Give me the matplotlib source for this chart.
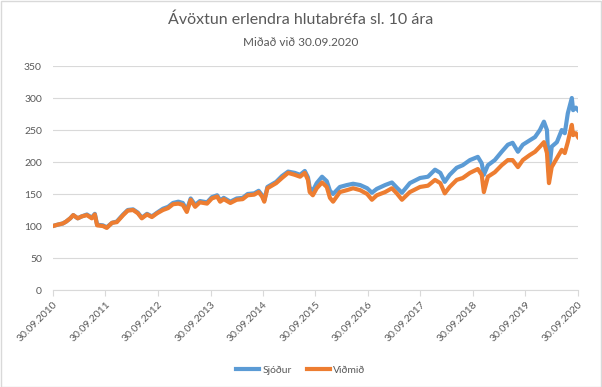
import matplotlib
matplotlib.use("Agg")
import matplotlib.pyplot as plt
from matplotlib.patches import Rectangle
import pandas as pd

# values (index, 30.09.2010 = 100)
dates = [
    "2010-09-30", "2010-10-31", "2010-12-08", "2010-12-31", "2011-01-28", "2011-02-18",
    "2011-03-21", "2011-04-18", "2011-05-24", "2011-06-27", "2011-07-18", "2011-08-03",
    "2011-09-12", "2011-10-09", "2011-11-15", "2011-12-18", "2012-01-31", "2012-03-03",
    "2012-04-09", "2012-05-12", "2012-06-09", "2012-07-15", "2012-08-18", "2012-09-24",
    "2012-11-03", "2012-12-09", "2013-01-12", "2013-02-18", "2013-03-21", "2013-04-18",
    "2013-05-15", "2013-06-15", "2013-07-18", "2013-09-06", "2013-10-09", "2013-11-15",
    "2013-12-06", "2013-12-31", "2014-02-15", "2014-03-31", "2014-05-12", "2014-06-15",
    "2014-07-31", "2014-08-31", "2014-09-24", "2014-10-09", "2014-10-31", "2014-12-31",
    "2015-02-09", "2015-03-24", "2015-05-09", "2015-06-15", "2015-07-18", "2015-08-09",
    "2015-08-21", "2015-09-12", "2015-10-09", "2015-11-15", "2015-12-18", "2016-01-09",
    "2016-01-31", "2016-03-18", "2016-05-06", "2016-06-18", "2016-08-06", "2016-09-24",
    "2016-10-27", "2016-11-30", "2017-01-27", "2017-03-15", "2017-04-18", "2017-05-24",
    "2017-07-18", "2017-09-27", "2017-11-21", "2018-01-09", "2018-02-15", "2018-03-18",
    "2018-04-21", "2018-06-09", "2018-07-21", "2018-09-09", "2018-11-03", "2018-11-30",
    "2018-12-15", "2019-01-12", "2019-03-01", "2019-04-18", "2019-05-31", "2019-07-03",
    "2019-08-09", "2019-09-12", "2019-10-31", "2019-12-06", "2020-01-09", "2020-02-06",
    "2020-02-27", "2020-03-12", "2020-03-31", "2020-05-06", "2020-06-09", "2020-06-30",
    "2020-07-21", "2020-08-18", "2020-08-27", "2020-09-15", "2020-09-30",
]
sjodur = [
    100, 102, 104, 107, 112, 117, 112, 115, 118, 113, 119, 102,
    101, 98, 105, 107, 118, 125, 126, 121, 113, 119, 115, 121,
    127, 130, 136, 138, 136, 125, 143, 133, 139, 137, 145, 148,
    140, 144, 138, 143, 144, 150, 151, 155, 148, 140, 161, 169,
    178, 185, 183, 180, 186, 176, 160, 155, 167, 177, 170, 155,
    150, 161, 164, 166, 164, 159, 152, 158, 164, 168, 160, 152,
    167, 175, 177, 188, 183, 169, 180, 191, 195, 203, 208, 198,
    180, 195, 203, 216, 227, 230, 216, 227, 234, 239, 250, 263,
    250, 184, 224, 231, 250, 245, 276, 300, 281, 285, 281,
]
vidmid = [
    100, 102, 104, 107, 112, 117, 112, 115, 117, 112, 118, 101,
    100, 97, 105, 106, 117, 124, 125, 120, 112, 118, 114, 120,
    125, 128, 134, 135, 133, 122, 141, 130, 137, 135, 143, 146,
    138, 142, 136, 141, 142, 148, 149, 153, 146, 138, 159, 167,
    175, 183, 180, 177, 183, 172, 153, 148, 159, 168, 161, 144,
    138, 153, 156, 159, 156, 150, 141, 148, 153, 159, 151, 141,
    153, 161, 163, 172, 167, 151, 161, 172, 175, 183, 189, 180,
    153, 177, 184, 195, 203, 203, 192, 203, 211, 216, 224, 231,
    214, 167, 192, 206, 219, 214, 231, 258, 242, 245, 239,
]
tick_years = list(range(2010, 2021))

plt.rcParams["font.family"] = ["Lato", "DejaVu Sans"]
grey = "#595959"

fig = plt.figure(figsize=(6.02, 3.87), dpi=100)
ax = fig.add_axes([53 / 602, 1 - 290 / 387, 525 / 602, 224 / 387])

x = pd.to_datetime(dates)
ax.plot(x, sjodur, color="#5B9BD5", lw=3, label="Sjóður")
ax.plot(x, vidmid, color="#ED7D31", lw=3, label="Viðmið")

ticks = pd.to_datetime([f"{y}-09-30" for y in tick_years])
ax.set_xlim(ticks[0], ticks[-1])
ax.set_xticks(ticks)
ax.set_xticklabels([t.strftime("%d.%m.%Y") for t in ticks], rotation=45,
                   ha="right", va="top", rotation_mode="anchor", fontsize=7.5, color=grey)
ax.set_ylim(0, 350)
ax.set_yticks(range(0, 351, 50))
ax.tick_params(axis="y", length=0, labelsize=7.5, labelcolor=grey, pad=8)
ax.tick_params(axis="x", length=4, color="#D9D9D9", pad=3)
ax.grid(axis="y", color="#D9D9D9", lw=0.8)
ax.set_axisbelow(True)
for s in ["top", "right", "left"]:
    ax.spines[s].set_visible(False)
ax.spines["bottom"].set_color("#D9D9D9")

fig.text(0.5, 1 - 20 / 387, "Ávöxtun erlendra hlutabréfa sl. 10 ára", ha="center", va="center",
         fontsize=11.5, color=grey)
fig.text(0.5, 1 - 43 / 387, "Miðað við 30.09.2020", ha="center", va="center",
         fontsize=8.5, color=grey)

fig.legend(loc="center", bbox_to_anchor=(0.5, 1 - 370 / 387), ncol=2, frameon=False,
           fontsize=7.5, labelcolor=grey, handlelength=2.2, columnspacing=1.5, handletextpad=0.3)

fig.patches.append(Rectangle((0.001, 0.001), 0.997, 0.997, transform=fig.transFigure,
                             fill=False, edgecolor="#D9D9D9", lw=1))

fig.savefig("out.png", dpi=100, facecolor="white")
